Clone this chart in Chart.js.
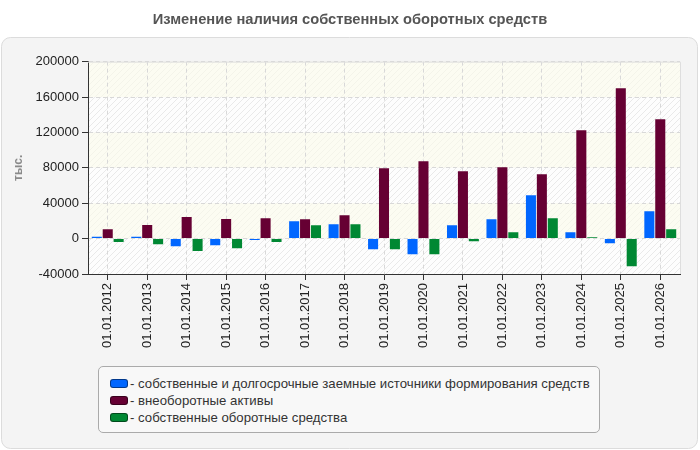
<!DOCTYPE html>
<html>
<head>
<meta charset="utf-8">
<script src="https://cdn.jsdelivr.net/npm/chart.js@4.4.1/dist/chart.umd.min.js"></script>
<style>
  body { margin: 0; background: #fff; }
  #wrap { position: relative; width: 700px; height: 450px; }
  #legend {
    position: absolute; left: 98px; top: 366px; width: 502px; height: 67px;
    box-sizing: border-box; border: 1px solid #aaa; border-radius: 5px;
    background: #f8f8f8; padding: 8px 0 0 11px;
    font: 13.2px "Liberation Sans", Arial, sans-serif; color: #333;
  }
  #legend div { height: 17px; line-height: 17px; white-space: nowrap; }
  #legend span.sw {
    display: inline-block; width: 16px; height: 7px; border-radius: 3px;
    border: 1px solid rgba(0,0,0,0.45); vertical-align: middle; margin-right: 2px;
    position: relative; top: -1px;
  }
</style>
</head>
<body>
<div id="wrap">
  <canvas id="chart" width="700" height="450"></canvas>
  <div id="legend"></div>
</div>
<script>
// Categories and series (тыс.)
const labels = ['01.01.2012', '01.01.2013', '01.01.2014', '01.01.2015', '01.01.2016',
  '01.01.2017', '01.01.2018', '01.01.2019', '01.01.2020', '01.01.2021',
  '01.01.2022', '01.01.2023', '01.01.2024', '01.01.2025', '01.01.2026'];
const ownLongTerm = [2000, 2000, -8700, -7500, -1500, 19600, 16200, -12000, -17700, 15100,
  21800, 49000, 7200, -5300, 30900];
const nonCurrent = [10500, 15400, 24500, 22200, 23000, 21800, 26400, 79500, 87400, 76100,
  80600, 72700, 122400, 169900, 134900];
const ownCurrent = [-3800, -6400, -13900, -10900, -3800, 15100, 16200, -12000, -17700, -3000,
  7200, 23000, 1500, -31300, 10500];
const seriesNames = [
  '- собственные и долгосрочные заемные источники формирования средств',
  '- внеоборотные активы',
  '- собственные оборотные средства'
];
const seriesColors = ['#0066ff', '#660033', '#008833'];

const FONT = '"Liberation Sans", Arial, sans-serif';

function makePattern(bg, line) {
  const c = document.createElement('canvas');
  c.width = 6; c.height = 6;
  const g = c.getContext('2d');
  g.fillStyle = bg;
  g.fillRect(0, 0, 6, 6);
  g.strokeStyle = line;
  g.lineWidth = 1;
  g.beginPath();
  g.moveTo(0, 6); g.lineTo(6, 0);
  g.moveTo(-3, 3); g.lineTo(3, -3);
  g.moveTo(3, 9); g.lineTo(9, 3);
  g.stroke();
  return g.createPattern(c, 'repeat');
}

// Panel and striped plot background
const backdrop = {
  id: 'backdrop',
  beforeDraw(chart) {
    const ctx = chart.ctx;
    const area = chart.chartArea;
    ctx.save();
    ctx.fillStyle = '#fff';
    ctx.fillRect(0, 0, chart.width, chart.height);
    ctx.beginPath();
    ctx.roundRect(1.5, 37.5, 696, 411, 9);
    ctx.fillStyle = '#f4f4f4';
    ctx.fill();
    ctx.strokeStyle = '#dcdcdc';
    ctx.stroke();

    const y = chart.scales.y;
    const cream = makePattern('#fcfcf2', '#f4f4ea');
    const hatch = makePattern('#fdfdfd', '#e9e9e9');
    const ticks = y.ticks.map(t => t.value).sort((a, b) => b - a);
    for (let i = 0; i < ticks.length - 1; i++) {
      const top = y.getPixelForValue(ticks[i]);
      const bot = y.getPixelForValue(ticks[i + 1]);
      ctx.fillStyle = i % 2 === 0 ? cream : hatch;
      ctx.fillRect(area.left, top, area.right - area.left, bot - top);
    }
    ctx.restore();
  },
  afterDatasetsDraw(chart) {
    const ctx = chart.ctx;
    const area = chart.chartArea;
    ctx.save();
    ctx.strokeStyle = '#dedede';
    ctx.lineWidth = 1;
    ctx.beginPath();
    ctx.moveTo(area.left, area.top + 0.5);
    ctx.lineTo(area.right + 0.5, area.top + 0.5);
    ctx.lineTo(area.right + 0.5, area.bottom);
    ctx.stroke();
    ctx.restore();
  }
};

const seriesData = [ownLongTerm, nonCurrent, ownCurrent];

const chart = new Chart(document.getElementById('chart'), {
  type: 'bar',
  data: {
    labels: labels,
    datasets: seriesData.map((d, i) => ({
      label: seriesNames[i],
      data: d,
      backgroundColor: seriesColors[i],
      borderWidth: 0,
      categoryPercentage: 0.83,
      barPercentage: 0.92
    }))
  },
  options: {
    responsive: false,
    animation: false,
    layout: { padding: { left: 20, right: 20, top: 0, bottom: 90 } },
    plugins: {
      legend: { display: false },
      tooltip: { enabled: false },
      title: {
        display: true,
        text: 'Изменение наличия собственных оборотных средств',
        color: '#555',
        font: { family: FONT, size: 14.7, weight: 'bold' },
        padding: { top: 11, bottom: 33 }
      }
    },
    scales: {
      x: {
        afterFit(s) { s.height = 86; },
        grid: {
          offset: false,
          color: '#d8d8d8',
          tickLength: 6,
          tickColor: '#333'
        },
        border: { color: '#333', width: 1, dash: [4, 3] },
        ticks: {
          autoSkip: false,
          minRotation: 90,
          maxRotation: 90,
          color: '#222',
          font: { family: FONT, size: 13 }
        }
      },
      y: {
        min: -40000,
        max: 200000,
        afterFit(s) { s.width = 68; },
        grid: {
          color: '#d8d8d8',
          tickLength: 6,
          tickColor: '#333'
        },
        border: { color: '#333', width: 1, dash: [4, 3] },
        ticks: {
          stepSize: 40000,
          color: '#222',
          padding: 3,
          font: { family: FONT, size: 13 },
          callback: v => String(v)
        },
        title: {
          display: true,
          text: 'тыс.',
          color: '#8a8a8a',
          font: { family: FONT, size: 12, weight: 'bold' },
          padding: { top: -9, bottom: 0 }
        }
      }
    }
  },
  plugins: [backdrop]
});

// Legend box
const legendEl = document.getElementById('legend');
chart.data.datasets.forEach(ds => {
  const row = document.createElement('div');
  const sw = document.createElement('span');
  sw.className = 'sw';
  sw.style.background = ds.backgroundColor;
  row.appendChild(sw);
  row.appendChild(document.createTextNode(ds.label));
  legendEl.appendChild(row);
});
</script>
</body>
</html>
